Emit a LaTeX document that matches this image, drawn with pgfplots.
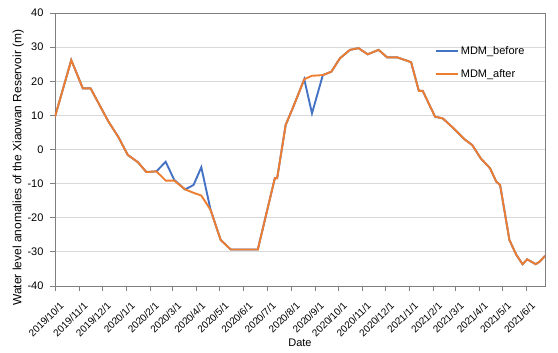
\documentclass[border=0pt]{standalone}
\usepackage{pgfplots}
\pgfplotsset{compat=1.18}
\usepackage{fontspec}
\setmainfont{Liberation Sans}
\definecolor{mdmblue}{HTML}{4472C4}
\definecolor{mdmorange}{HTML}{ED7D31}
\definecolor{gridgray}{HTML}{D9D9D9}
\definecolor{axisgray}{HTML}{7F7F7F}
\begin{document}
\begin{tikzpicture}
\begin{axis}[
  at={(0,0)}, anchor=south west,
  scale only axis, width=490pt, height=273pt,
  xmin=0, xmax=633, ymin=-40, ymax=40,
  ytick={-40,-30,...,40},
  xtick={0,31,61,92,123,152,183,213,244,274,305,336,366,397,427,458,489,517,548,578,609},
  xticklabels={2019/10/1,2019/11/1,2019/12/1,2020/1/1,2020/2/1,2020/3/1,2020/4/1,2020/5/1,2020/6/1,2020/7/1,2020/8/1,2020/9/1,2020/10/1,2020/11/1,2020/12/1,2021/1/1,2021/2/1,2021/3/1,2021/4/1,2021/5/1,2021/6/1},
  tick pos=left, tick align=outside, major tick length=5pt,
  tick style={axisgray, line width=0.8pt},
  axis line style={axisgray, line width=0.8pt},
  ymajorgrids, grid style={gridgray, line width=0.8pt},
  /pgf/number format/assume math mode=true,
  yticklabel style={font=\fontsize{11}{13}\selectfont, xshift=-3pt},
  xticklabel style={font=\fontsize{10}{12}\selectfont, rotate=45, anchor=north east, inner sep=0pt, xshift=-4pt, yshift=-10pt},
  xlabel={Date},
  ylabel={Water level anomalies of the Xiaowan Reservoir (m)},
  xlabel style={font=\fontsize{11}{13}\selectfont, at={(axis description cs:0.5,0)}, anchor=center, yshift=-57pt},
  ylabel style={font=\fontsize{12}{14}\selectfont, at={(axis description cs:-0.075,0.434)}, anchor=center, rotate=0},
  legend style={draw=none, fill=none, at={(axis description cs:0.775,0.885)}, anchor=north west,
    font=\fontsize{11}{13}\selectfont, row sep=9pt, inner sep=0pt,
    /tikz/every even column/.append style={column sep=1pt}},
  legend cell align=left,
  legend image code/.code={\draw[#1] (0pt,0pt) -- (22pt,0pt);},
]
\addplot[mdmblue, line width=1.9pt] coordinates {
(0,9.6) (21,26.2) (36,17.9) (46,17.9) (69,8.2) (82,3.6) (94,-1.6) (107,-3.7) (118,-6.6) (131,-6.4)
(143,-3.6) (154,-8.9) (168,-11.7) (179,-10.4) (189,-5.2) (201,-17.7) (214,-26.5) (227,-29.3) (262,-29.3)
(284,-8.4) (287,-8.4) (298,7.2) (308,12.6) (322,20.6) (332,10.6) (346,21.8) (357,22.8) (368,26.7)
(381,29.2) (392,29.7) (404,27.9) (418,29.2) (429,27.0) (442,27.0) (460,25.6) (470,17.2) (475,17.2)
(491,9.6) (501,9.1) (515,6.2) (529,3.0) (539,1.3) (550,-2.6) (562,-5.5) (570,-9.4) (575,-10.4)
(587,-26.5) (596,-30.9) (604,-33.6) (610,-32.2) (621,-33.6) (626,-32.9) (633,-31.2)
};
\addlegendentry{MDM\_before}
\addplot[mdmorange, line width=1.9pt] coordinates {
(0,9.6) (21,26.2) (36,17.9) (46,17.9) (69,8.2) (82,3.6) (94,-1.6) (107,-3.7) (118,-6.6) (131,-6.4)
(143,-9.1) (154,-9.1) (168,-11.7) (179,-12.7) (189,-13.5) (201,-17.7) (214,-26.5) (227,-29.3) (262,-29.3)
(284,-8.4) (287,-8.4) (298,7.2) (308,12.6) (322,20.6) (332,21.6) (346,21.8) (357,22.8) (368,26.7)
(381,29.2) (392,29.7) (404,27.9) (418,29.2) (429,27.0) (442,27.0) (460,25.6) (470,17.2) (475,17.2)
(491,9.6) (501,9.1) (515,6.2) (529,3.0) (539,1.3) (550,-2.6) (562,-5.5) (570,-9.4) (575,-10.4)
(587,-26.5) (596,-30.9) (604,-33.6) (610,-32.2) (621,-33.6) (626,-32.9) (633,-31.2)
};
\addlegendentry{MDM\_after}
\end{axis}
\pgfresetboundingbox
\path[use as bounding box] (-55pt,-67pt) rectangle (503pt,286pt);
\end{tikzpicture}
\end{document}
